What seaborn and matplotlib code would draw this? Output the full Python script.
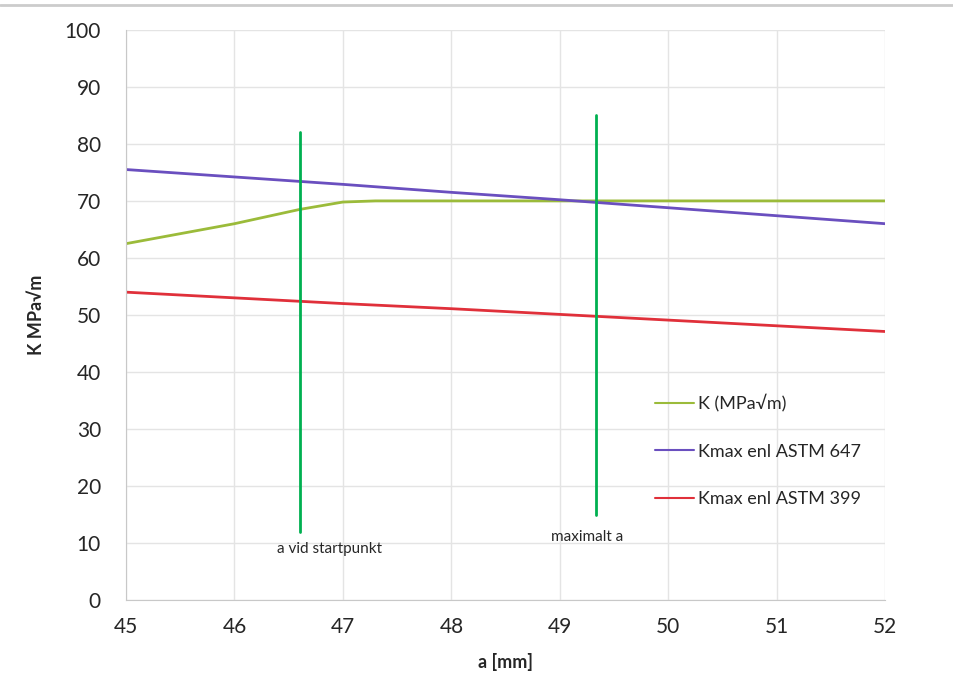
import matplotlib
matplotlib.use("Agg")
import matplotlib.pyplot as plt
import seaborn as sns
import pandas as pd

# Data
a_k = [45, 46, 46.6, 47, 47.3, 48, 49, 50, 51, 52]
k_vals = [62.5, 66.0, 68.5, 69.8, 70.0, 70.0, 70.0, 70.0, 70.0, 70.0]
a_astm = [45, 46, 47, 48, 49, 50, 51, 52]
k647 = [75.5, 74.2, 72.9, 71.5, 70.2, 68.8, 67.4, 66.0]
k399 = [54.0, 53.0, 52.0, 51.1, 50.1, 49.1, 48.1, 47.1]
start_x = [46.6, 46.6]
start_y = [12, 82]
max_x = [49.33, 49.33]
max_y = [15, 85]
labels = ["K (MPa√m)", "Kmax enl ASTM 647", "Kmax enl ASTM 399"]
xticks = [45, 46, 47, 48, 49, 50, 51, 52]
yticks = [0, 10, 20, 30, 40, 50, 60, 70, 80, 90, 100]

sns.set_style("white")
plt.rcParams['font.family'] = ['Lato', 'DejaVu Sans']

fig = plt.figure(figsize=(9.54, 6.93), dpi=100)
ax = fig.add_axes([0.132, 0.134, 0.796, 0.823])

sns.lineplot(x=a_k, y=k_vals, ax=ax, color="#9BBB3A", lw=2, label=labels[0])
sns.lineplot(x=a_astm, y=k647, ax=ax, color="#6A4FBF", lw=2, label=labels[1])
sns.lineplot(x=a_astm, y=k399, ax=ax, color="#E0303A", lw=2, label=labels[2])
ax.plot(start_x, start_y, color="#00B050", lw=2)
ax.plot(max_x, max_y, color="#00B050", lw=2)

ax.text(46.88, 9, "a vid startpunkt", ha="center", va="center", fontsize=11)
ax.text(49.25, 11, "maximalt a", ha="center", va="center", fontsize=11)

ax.set_xlim(45, 52)
ax.set_ylim(0, 100)
ax.set_xticks(xticks)
ax.set_yticks(yticks)
ax.grid(True, color="#E4E4E4", lw=1)
for s in ["top", "right"]:
    ax.spines[s].set_visible(False)
for s in ["left", "bottom"]:
    ax.spines[s].set_color("#C8C8C8")
ax.tick_params(axis="both", labelsize=15, length=0)
ax.tick_params(axis="y", pad=18)
ax.tick_params(axis="x", pad=12)
ax.set_xlabel("a [mm]", fontsize=13, fontweight="bold", labelpad=12)
ax.set_ylabel("K MPa√m", fontsize=13, fontweight="bold", labelpad=14)

leg = ax.legend(loc="upper left", bbox_to_anchor=(0.675, 0.39), frameon=False,
                fontsize=13, handlelength=2.2, handletextpad=0.2, labelspacing=1.75)
for line in leg.get_lines():
    line.set_linewidth(1.5)

fig.add_artist(plt.Line2D([0, 1], [0.993, 0.993], color="#CCCCCC", lw=2, transform=fig.transFigure))

fig.savefig("out.png", dpi=100, facecolor="white")
